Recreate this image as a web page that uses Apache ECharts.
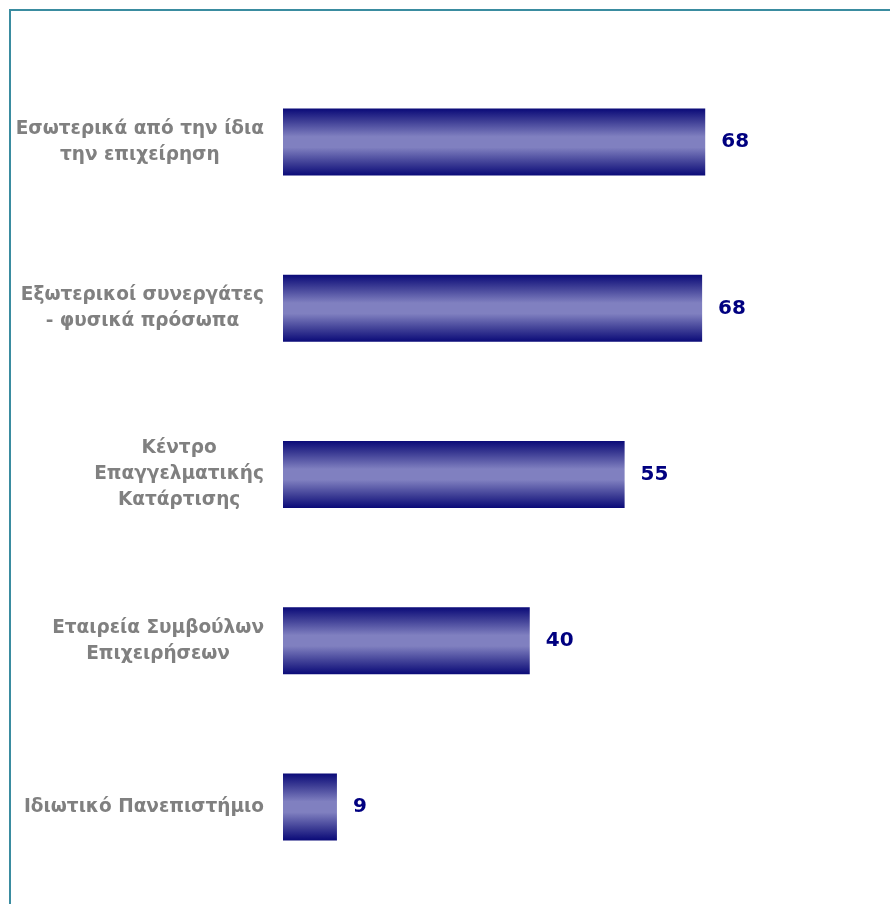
<!DOCTYPE html>
<html>
<head>
<meta charset="utf-8">
<script src="https://cdn.jsdelivr.net/npm/echarts@6/dist/echarts.min.js"></script>
<style>
  html, body { margin: 0; padding: 0; background: #fff; }
  #chart { width: 890px; height: 904px; }
</style>
</head>
<body>
<div id="chart"></div>
<script>
// categories, top to bottom
const categories = [
  ['Εσωτερικά από την ίδια', 'την επιχείρηση'],
  ['Εξωτερικοί συνεργάτες', '- φυσικά πρόσωπα'],
  ['Κέντρο', 'Επαγγελματικής', 'Κατάρτισης'],
  ['Εταιρεία Συμβούλων', 'Επιχειρήσεων'],
  ['Ιδιωτικό Πανεπιστήμιο']
]
const values = [68.1, 67.6, 55.1, 39.8, 8.7]

const chart = echarts.init(document.getElementById('chart'))

const barGradient = new echarts.graphic.LinearGradient(0, 0, 0, 1, [
  { offset: 0, color: '#0a0a78' },
  { offset: 0.18, color: '#3c3c94' },
  { offset: 0.42, color: '#8080c0' },
  { offset: 0.58, color: '#8080c0' },
  { offset: 0.82, color: '#3c3c94' },
  { offset: 1, color: '#0a0a78' }
])

chart.setOption({
  animation: false,
  graphic: [
    {
      type: 'polyline',
      shape: { points: [[10, 904], [10, 10], [890, 10]] },
      style: { stroke: '#3a8ca0', lineWidth: 2, fill: null }
    }
  ],
  grid: { left: 283, right: 49, top: 59, bottom: 14, containLabel: false },
  xAxis: {
    type: 'value',
    min: 0,
    max: 90,
    show: false
  },
  yAxis: {
    type: 'category',
    inverse: true,
    data: categories.map(c => c.join('\n')),
    axisLine: { show: false },
    axisTick: { show: false },
    axisLabel: {
      margin: 19,
      formatter: (v) => v.split('\n').map(l => `{c|${l}}`).join('\n'),
      rich: {
        c: {
          align: 'center',
          fontFamily: 'DejaVu Sans',
          fontWeight: 'bold',
          fontSize: 18.5,
          color: '#808080',
          lineHeight: 26
        }
      }
    }
  },
  series: [
    {
      type: 'bar',
      data: values,
      barWidth: 67,
      itemStyle: { color: barGradient },
      label: {
        show: true,
        position: 'right',
        distance: 16,
        formatter: ({ value }) => Math.round(value),
        fontFamily: 'DejaVu Sans',
        fontWeight: 'bold',
        fontSize: 20,
        color: '#000080'
      }
    }
  ]
})
</script>
</body>
</html>
